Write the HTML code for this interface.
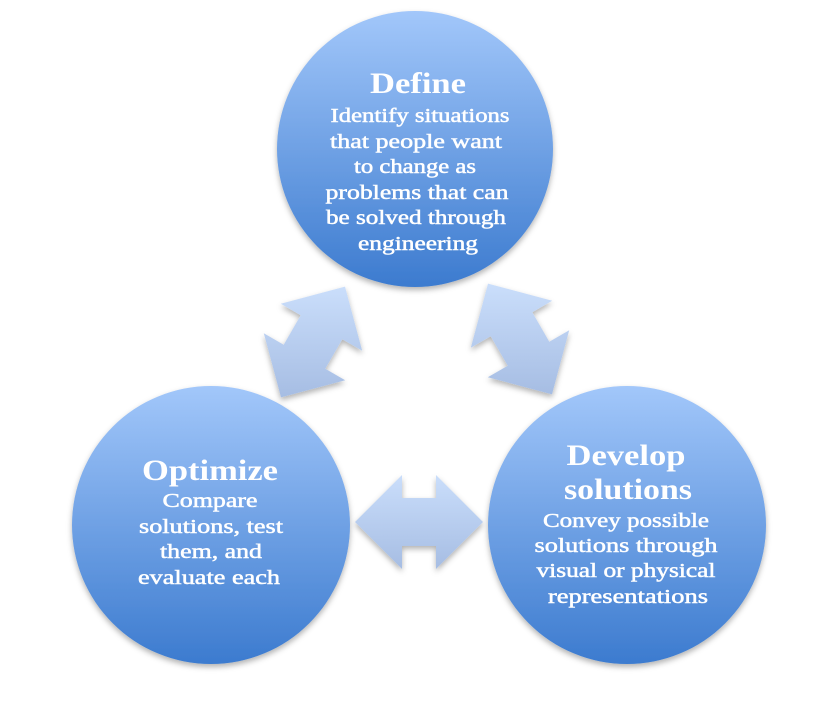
<!DOCTYPE html>
<html><head><style>
body{margin:0;background:#fff;}
svg text{font-family:"Liberation Serif",serif;fill:#fff;text-anchor:middle;}
.t{font-size:30px;font-weight:bold;}
.b{font-size:20.5px;stroke:#fff;stroke-width:0.5px;}
</style></head><body>
<svg width="830" height="720" viewBox="0 0 830 720">
<defs>
<linearGradient id="c" x1="0" y1="0" x2="0" y2="1">
<stop offset="0" stop-color="#a2c7fa"/><stop offset="1" stop-color="#3c7bcf"/>
</linearGradient>
<linearGradient id="a" x1="0" y1="0" x2="0" y2="1">
<stop offset="0" stop-color="#cadefb"/><stop offset="1" stop-color="#a6bde3"/>
</linearGradient>
<filter id="s" x="-20%" y="-20%" width="140%" height="140%"><feDropShadow dx="0" dy="3" stdDeviation="3" flood-color="#000" flood-opacity="0.3"/></filter>
</defs>
<circle cx="415" cy="149" r="138" fill="url(#c)" filter="url(#s)"/>
<circle cx="211" cy="525" r="139" fill="url(#c)" filter="url(#s)"/>
<circle cx="627" cy="525" r="139" fill="url(#c)" filter="url(#s)"/>
<g filter="url(#s)" fill="url(#a)">
<polygon points="355,522 402,475 402,498 436,498 436,475 483,522 436,569 436,546 402,546 402,569"/>
<polygon points="281,397.4 263.8,333.2 283.7,344.7 300.7,315.3 280.8,303.8 345,286.6 362.2,350.8 342.3,339.3 325.3,368.7 345.2,380.2"/>
<polygon points="488,283.6 552.2,300.8 532.3,312.3 549.3,341.7 569.2,330.2 552,394.4 487.8,377.2 507.7,365.7 490.7,336.3 470.8,347.8"/>
</g>
<text class="t" x="418" y="93" textLength="96" lengthAdjust="spacingAndGlyphs">Define</text>
<text class="b" x="420" y="122" textLength="179" lengthAdjust="spacingAndGlyphs">Identify situations</text>
<text class="b" x="416" y="148" textLength="172" lengthAdjust="spacingAndGlyphs">that people want</text>
<text class="b" x="415" y="173" textLength="122" lengthAdjust="spacingAndGlyphs">to change as</text>
<text class="b" x="417" y="199" textLength="183" lengthAdjust="spacingAndGlyphs">problems that can</text>
<text class="b" x="416" y="224" textLength="180" lengthAdjust="spacingAndGlyphs">be solved through</text>
<text class="b" x="418" y="250" textLength="120" lengthAdjust="spacingAndGlyphs">engineering</text>
<text class="t" x="210" y="480" textLength="136" lengthAdjust="spacingAndGlyphs">Optimize</text>
<text class="b" x="210" y="507" textLength="95" lengthAdjust="spacingAndGlyphs">Compare</text>
<text class="b" x="211" y="533" textLength="144" lengthAdjust="spacingAndGlyphs">solutions, test</text>
<text class="b" x="211" y="558" textLength="102" lengthAdjust="spacingAndGlyphs">them, and</text>
<text class="b" x="209" y="584" textLength="142" lengthAdjust="spacingAndGlyphs">evaluate each</text>
<text class="t" x="626" y="465" textLength="119" lengthAdjust="spacingAndGlyphs">Develop</text>
<text class="t" x="628" y="499" textLength="128" lengthAdjust="spacingAndGlyphs">solutions</text>
<text class="b" x="626" y="527" textLength="166" lengthAdjust="spacingAndGlyphs">Convey possible</text>
<text class="b" x="626" y="552" textLength="183" lengthAdjust="spacingAndGlyphs">solutions through</text>
<text class="b" x="626" y="577" textLength="179" lengthAdjust="spacingAndGlyphs">visual or physical</text>
<text class="b" x="628" y="603" textLength="160" lengthAdjust="spacingAndGlyphs">representations</text>
</svg>
</body></html>
